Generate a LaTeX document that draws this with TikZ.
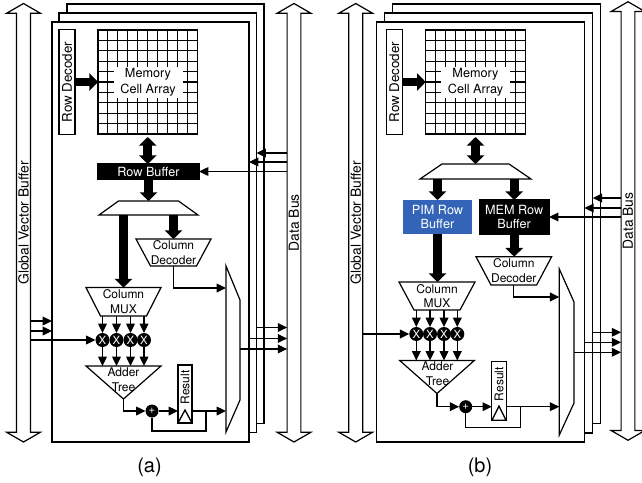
\documentclass[tikz,border=0pt]{standalone}
\usepackage{fontspec}
\setmainfont{TeX Gyre Heros}
\usetikzlibrary{arrows.meta}
\usetikzlibrary{shapes.arrows}
\tikzset{
  dims/.style 2 args={minimum width=#1*.75pt,minimum height=#2*.75pt},
  lbl/.style={font=\fontsize{9}{11}\selectfont,align=center,inner sep=0pt,outer sep=0pt},
  framebox/.style={draw,fill=white,line width=1pt,inner sep=0pt,outer sep=0pt},
  blockbox/.style={draw,line width=.9pt,inner sep=0pt,outer sep=0pt,align=center,font=\fontsize{9.5}{11.2}\selectfont},
  busarrow/.style={draw,line width=.9pt,double arrow,rotate=90,inner sep=0pt,outer sep=0pt,minimum width=33.5*.75pt,minimum height=438.5*.75pt,
    double arrow head extend=8.25*.75pt,double arrow tip angle=120,font=\fontsize{10.4}{12}\selectfont},
  mulnode/.style={circle,fill=black,text=white,minimum size=14*.75pt,inner sep=0pt,outer sep=0pt,font=\fontsize{8.5}{9}\selectfont},
  wire/.style={line width=1pt},
  wirearrow/.style={line width=1pt,-{Triangle[length=7pt,width=6.5pt]}},
  fatarrow/.style={line width=6.5pt,-{Triangle[length=6.5pt,width=13pt]}},
  fatboth/.style={line width=6.5pt,{Triangle[length=6.5pt,width=13pt]}-{Triangle[length=6.5pt,width=13pt]}},
  gridline/.style={line width=.8pt},
  outline/.style={draw,line width=.9pt,line join=miter}
}
\newcommand{\taper}[3]{\draw[outline] ([xshift=#2*.75pt]#1.north west) -- ([xshift=-#2*.75pt]#1.north east) -- ([xshift=-#3*.75pt]#1.south east) -- ([xshift=#3*.75pt]#1.south west) -- cycle;}
\begin{document}
\begin{tikzpicture}[x=.75pt,y=-.75pt]
  \useasboundingbox (0,0) rectangle (642,482);
  \node[framebox,dims={197}{419.7}] (aback) at (165.5,213.85) {};
  \node[framebox,dims={197.5}{419.5}] (amid) at (157.75,222.75) {};
  \node[framebox,dims={197}{420}] (afront) at (150.5,232) {};
  \node[busarrow] (agvb) at (23.5,222.75) {Global Vector Buffer};
  \node[busarrow] (adbus) at (294,222.75) {Data Bus};
  \node[blockbox,rotate=90,dims={105}{16},font=\fontsize{10}{12}\selectfont] (adec) at (67,82) {Row Decoder};
  \node[blockbox,dims={99.5}{104}] (agrid) at (147.75,82) {};
  \foreach \i in {1,...,9} {
    \draw[gridline] (98+\i*9.95,30) -- (98+\i*9.95,134);
    \draw[gridline] (98,30+\i*10.4) -- (197.5,30+\i*10.4);
  }
  \node[fill=white,dims={69}{31},inner sep=0pt,align=center,font=\fontsize{9.5}{12}\selectfont] (acell) at (148,82) {Memory\\Cell Array};
  \node[blockbox,fill=black,text=white,dims={101}{15}] (abuf) at (148.5,171.5) {Row Buffer};
  \node[lbl,dims={99}{14}] (asplit) at (148.5,208) {};
  \taper{asplit}{19.5}{0}
  \node[lbl,dims={75}{28.5}] (amuxc) at (123.5,301.75) {Column\\MUX};
  \taper{amuxc}{0}{14.5}
  \node[lbl,dims={75}{27}] (acdec) at (173.5,252.5) {Column\\Decoder};
  \taper{acdec}{0}{14.5}
  \node[blockbox,rotate=90,dims={58}{14},font=\fontsize{9}{11}\selectfont] (ares) at (185,394) {\hspace*{10pt}Result};
  \draw[wire] (ares.north west) -- (ares.south west) -- ([yshift=9.75pt]ares.west) -- cycle;
  \foreach \n/\x in {1/102.5,2/116.5,3/130.5,4/144} {
    \node[mulnode] (ax\n) at (\x,340) {X};
  }
  \node[mulnode,minimum size=13*.75pt] (aplus) at (152,411) {+};
  \coordinate (aaddl) at (86,366);
  \coordinate (aaddr) at (161,366);
  \coordinate (aaddtip) at (123.5,399);
  \draw[outline] (aaddl) -- (aaddr) -- (aaddtip) -- cycle;
  \node[lbl] (aaddtxt) at (123.5,380) {Adder\\Tree};
  \coordinate (aoutA) at (226,288);
  \coordinate (aoutB) at (226,411);
  \coordinate (afb) at (206,411);
  \draw[outline] (226,266) -- (240,300) -- (240,400) -- (226,432) -- cycle;
  \coordinate (aoutM) at (240,349);
  \draw[fatarrow] (adec.south) -- (agrid.west);
  \draw[fatboth,shorten <=3*.75pt] (agrid.south) -- (agrid.south |- abuf.north);
  \draw[fatarrow] (abuf.south) -- (asplit.north);
  \draw[fatarrow] (amuxc |- asplit.south) -- (amuxc.north);
  \draw[fatarrow] (acdec |- asplit.south) -- (acdec.north);
  \draw[wirearrow] (acdec.south) |- (aoutA);
  \foreach \n in {1,2,3,4} {
    \draw[wirearrow] (ax\n |- amuxc.south) -- (ax\n.north);
    \draw[wirearrow] (ax\n.south) -- (ax\n |- aaddl);
  }
  \draw[wirearrow] (aaddtip) |- (aplus.west);
  \draw[wirearrow] (aplus.east) -- (ares.north |- aplus);
  \draw[wirearrow] (ares.south |- aplus) -- (aoutB);
  \draw[wire] (afb) -- (206,431) -| (aplus.south);
  \draw[wirearrow] (agvb.south |- 0,321) -- (afront.west |- 0,321);
  \draw[wirearrow] (agvb.south |- 0,331) -- (afront.west |- 0,331);
  \draw[wirearrow] (agvb.south |- ax1) -- (ax1.west);
  \draw[wirearrow] (adbus.north |- 0,153) -- (amid.east |- 0,153);
  \draw[wirearrow] (adbus.north |- 0,162) -- (afront.east |- 0,162);
  \draw[wirearrow] (adbus.north |- abuf) -- (abuf.east);
  \draw[wirearrow] (amid.east |- 0,327.5) -- (adbus.north |- 0,327.5);
  \draw[wirearrow] (afront.east |- 0,338.5) -- (adbus.north |- 0,338.5);
  \draw[wirearrow] (aoutM) -- (adbus.north |- aoutM);
  \node[font=\fontsize{15}{17}\selectfont,inner sep=0pt] (acap) at (149.5,467) {(a)};

  \node[framebox,dims={208}{419.7}] (bback) at (496.5,213.85) {};
  \node[framebox,dims={208.4}{420}] (bmid) at (488.5,223) {};
  \node[framebox,dims={207.6}{420}] (bfront) at (480.5,232) {};
  \node[busarrow] (bgvb) at (355.7,222.75) {Global Vector Buffer};
  \node[busarrow] (bdbus) at (628,221) {Data Bus};
  \node[blockbox,rotate=90,dims={105}{16},font=\fontsize{10}{12}\selectfont] (bdec) at (394.3,82) {Row Decoder};
  \node[blockbox,dims={99.6}{104}] (bgrid) at (475.5,82) {};
  \foreach \i in {1,...,9} {
    \draw[gridline] (425.7+\i*9.96,30) -- (425.7+\i*9.96,134);
    \draw[gridline] (425.7,30+\i*10.4) -- (525.3,30+\i*10.4);
  }
  \node[fill=white,dims={69}{31},inner sep=0pt,align=center,font=\fontsize{9.5}{12}\selectfont] (bcell) at (475.5,82) {Memory\\Cell Array};
  \node[lbl,dims={111}{15}] (bsplit) at (475.5,171.5) {};
  \taper{bsplit}{22}{0}
  \node[fill={rgb,255:red,52;green,100;blue,183},text=white,inner sep=0pt,outer sep=0pt,align=center,font=\fontsize{9.5}{11.2}\selectfont,dims={69}{34}] (bpim) at (437.5,217) {PIM Row\\Buffer};
  \node[blockbox,fill=black,text=white,dims={69.7}{34}] (bmem) at (514.2,217) {MEM Row\\Buffer};
  \node[lbl,dims={76}{28}] (bmuxc) at (437,296) {Column\\MUX};
  \taper{bmuxc}{0}{15}
  \node[lbl,dims={75.7}{28.3}] (bcdec) at (513.8,270.8) {Column\\Decoder};
  \taper{bcdec}{0}{15}
  \node[blockbox,rotate=90,dims={59}{14.3},font=\fontsize{9}{11}\selectfont] (bres) at (499,390.8) {\hspace*{10pt}Result};
  \draw[wire] (bres.north west) -- (bres.south west) -- ([yshift=10.6pt]bres.west) -- cycle;
  \foreach \n/\x in {1/416.3,2/430,3/444,4/457.3} {
    \node[mulnode] (bx\n) at (\x,334) {X};
  }
  \node[mulnode,minimum size=13*.75pt] (bplus) at (465.7,406.7) {+};
  \coordinate (baddl) at (399.7,360.5);
  \coordinate (baddr) at (474.3,360.5);
  \coordinate (baddtip) at (437,393.5);
  \draw[outline] (baddl) -- (baddr) -- (baddtip) -- cycle;
  \node[lbl] (baddtxt) at (437.5,374) {Adder\\Tree};
  \coordinate (boutA) at (559.3,297);
  \coordinate (boutB) at (559.3,406.7);
  \coordinate (bfb) at (520.7,406.7);
  \draw[outline] (559.3,269) -- (574,302) -- (574,403) -- (559.3,435) -- cycle;
  \coordinate (boutM) at (574,352.3);
  \draw[fatarrow] (bdec.south) -- (bgrid.west);
  \draw[fatboth,shorten <=3*.75pt] (bgrid.south) -- (bsplit.north);
  \draw[fatarrow] (bpim |- bsplit.south) -- (bpim.north);
  \draw[fatarrow] (bmem |- bsplit.south) -- (bmem.north);
  \draw[fatarrow] (bpim.south) -- (bpim |- bmuxc.north);
  \draw[fatarrow] (bmem.south) -- (bmem |- bcdec.north);
  \draw[wirearrow] (bcdec.south) |- (boutA);
  \foreach \n in {1,2,3,4} {
    \draw[wirearrow] (bx\n |- bmuxc.south) -- (bx\n.north);
    \draw[wirearrow] (bx\n.south) -- (bx\n |- baddl);
  }
  \draw[wirearrow] (baddtip) |- (bplus.west);
  \draw[wirearrow] (bplus.east) -- (bres.north |- bplus);
  \draw[wirearrow] (bres.south |- bplus) -- (boutB);
  \draw[wire] (bfb) -- (520.7,427.7) -| (bplus.south);
  \draw[wirearrow] (bgvb.south |- bx1) -- (bx1.west);
  \draw[wirearrow] (bdbus.north |- 0,198) -- (bmid.east |- 0,198);
  \draw[wirearrow] (bdbus.north |- 0,208) -- (bfront.east |- 0,208);
  \draw[wirearrow] (bdbus.north |- bmem) -- (bmem.east);
  \draw[wirearrow] (bmid.east |- 0,332.3) -- (bdbus.north |- 0,332.3);
  \draw[wirearrow] (bfront.east |- 0,342.3) -- (bdbus.north |- 0,342.3);
  \draw[wirearrow] (boutM) -- (bdbus.north |- boutM);
  \node[font=\fontsize{15}{17}\selectfont,inner sep=0pt] (bcap) at (480,467) {(b)};
\end{tikzpicture}
\end{document}
